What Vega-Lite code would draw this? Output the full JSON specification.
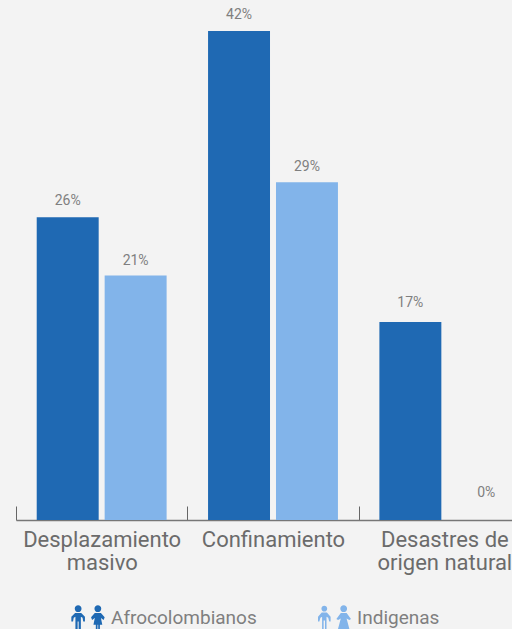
{
"$schema":"https://vega.github.io/schema/vega-lite/v6.json",
"width":496,"height":489,
"autosize":{"type":"none"},
"padding":{"left":16,"top":31,"right":0,"bottom":109},
"background":"#f3f3f3",
"view":{"stroke":null},
"data":{"values":[
{"categoria":"Desplazamiento|masivo","grupo":"Afrocolombianos","valor":26,"etiqueta":"26%"},
{"categoria":"Desplazamiento|masivo","grupo":"Indigenas","valor":21,"etiqueta":"21%"},
{"categoria":"Confinamiento","grupo":"Afrocolombianos","valor":42,"etiqueta":"42%"},
{"categoria":"Confinamiento","grupo":"Indigenas","valor":29,"etiqueta":"29%"},
{"categoria":"Desastres de|origen natural","grupo":"Afrocolombianos","valor":17,"etiqueta":"17%"},
{"categoria":"Desastres de|origen natural","grupo":"Indigenas","valor":0,"etiqueta":"0%"}
]},
"encoding":{
"x":{"field":"categoria","type":"nominal","sort":null,"title":null,
"scale":{"range":[0,514],"paddingInner":0,"paddingOuter":0},
"axis":{"tickBand":"extent","tickSize":-14,"tickColor":"#666666","domainColor":"#777777","domainWidth":1.5,"labelAngle":0,"labelFont":"Roboto","labelFontSize":22,"labelColor":"#6b6b6b","labelPadding":23,"labelLineHeight":23,"labelBaseline":"top","labelExpr":"split(datum.label,'|')","labelOverlap":false,"labelBound":false,"labelFlush":false,"grid":false}},
"xOffset":{"field":"grupo","type":"nominal","sort":null,"scale":{"paddingInner":0.088,"paddingOuter":0.305}},
"y":{"field":"valor","type":"quantitative","title":null,"scale":{"domain":[0,42],"nice":false},"axis":null},
"color":{"field":"grupo","type":"nominal","scale":{"domain":["Afrocolombianos","Indigenas"],"range":["#1f69b3","#82b4ea"]},
"legend":{"title":null,"orient":"none","legendX":55,"legendY":570,"direction":"horizontal","columns":2,"columnPadding":60,"symbolSize":1156,"symbolOpacity":1,"symbolStrokeWidth":0,"labelOffset":6,"labelFont":"Roboto","labelFontSize":19,"labelColor":"#7f7f7f","labelLimit":300}}
},
"layer":[
{"mark":{"type":"bar"}},
{"transform":[{"filter":"datum.valor==26||datum.valor==42"}],"mark":{"type":"text","baseline":"middle","dy":-16,"font":"Roboto","fontSize":14},"encoding":{"text":{"field":"etiqueta"},"color":{"value":"#7f7f7f"}}},
{"transform":[{"filter":"datum.valor==21||datum.valor==29"}],"mark":{"type":"text","baseline":"middle","dy":-15,"font":"Roboto","fontSize":14},"encoding":{"text":{"field":"etiqueta"},"color":{"value":"#7f7f7f"}}},
{"transform":[{"filter":"datum.valor==17"}],"mark":{"type":"text","baseline":"middle","dy":-19,"font":"Roboto","fontSize":14},"encoding":{"text":{"field":"etiqueta"},"color":{"value":"#7f7f7f"}}},
{"transform":[{"filter":"datum.valor==0"}],"mark":{"type":"text","baseline":"middle","dy":-27,"dx":8,"font":"Roboto","fontSize":14},"encoding":{"text":{"field":"etiqueta"},"color":{"value":"#7f7f7f"}}},
{"mark":{"type":"point","filled":true,"size":0,"opacity":0},"encoding":{
"shape":{"field":"grupo","type":"nominal","scale":{"domain":["Afrocolombianos","Indigenas"],"range":[
"M-0.78 -0.55a0.2 0.2 0 1 0 0.4 0a0.2 0.2 0 1 0 -0.4 0ZM-0.76 -0.3L-0.4 -0.3L-0.18 -0.08L-0.18 0.2L-0.28 0.2L-0.32 -0.02L-0.42 -0.08L-0.42 0.7L-0.55 0.7L-0.55 0.2L-0.61 0.2L-0.61 0.7L-0.74 0.7L-0.74 -0.08L-0.84 -0.02L-0.88 0.2L-0.98 0.2L-0.98 -0.08ZM0.38 -0.55a0.2 0.2 0 1 0 0.4 0a0.2 0.2 0 1 0 -0.4 0ZM0.4 -0.3L0.76 -0.3L0.98 -0.05L0.92 0.12L0.76 0L0.84 0.4L0.7 0.4L0.7 0.7L0.6 0.7L0.6 0.4L0.56 0.4L0.56 0.7L0.46 0.7L0.46 0.4L0.32 0.4L0.4 0L0.24 0.12L0.18 -0.05Z",
"M-0.74 -0.55a0.17 0.17 0 1 0 0.34 0a0.17 0.17 0 1 0 -0.34 0ZM-0.72 -0.32L-0.42 -0.32L-0.2 -0.08L-0.2 0.2L-0.28 0.2L-0.34 -0.02L-0.44 -0.08L-0.44 0.7L-0.53 0.7L-0.53 0.15L-0.61 0.15L-0.61 0.7L-0.7 0.7L-0.7 -0.08L-0.8 -0.02L-0.86 0.2L-0.94 0.2L-0.94 -0.08ZM0.37 -0.55a0.2 0.2 0 1 0 0.4 0a0.2 0.2 0 1 0 -0.4 0ZM0.4 -0.3L0.74 -0.3L1 0.05L0.9 0.12L0.74 0.02L0.92 0.7L0.22 0.7L0.4 0.02L0.24 0.12L0.14 0.05Z"
]},"legend":{"title":null,"orient":"none","legendX":55,"legendY":570,"direction":"horizontal","columns":2,"columnPadding":60,"symbolSize":1156,"symbolOpacity":1,"symbolStrokeWidth":0,"labelOffset":6,"labelFont":"Roboto","labelFontSize":19,"labelColor":"#7f7f7f","labelLimit":300}}
}}
]
}
